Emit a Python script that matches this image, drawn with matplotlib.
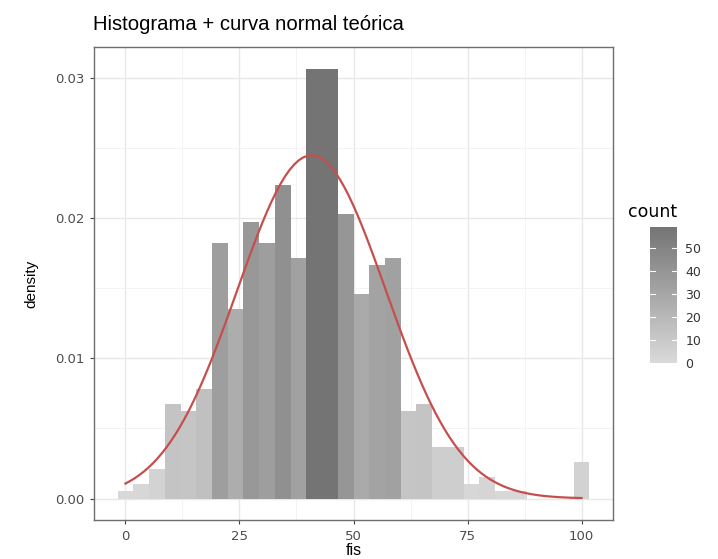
import matplotlib.pyplot as plt
import numpy as np
from matplotlib.colors import LinearSegmentedColormap, Normalize
from matplotlib.colorbar import ColorbarBase

plt.rcParams['font.family'] = ['Liberation Sans', 'DejaVu Sans']

# histogram: 30 bins over 0..100 (ggplot default), counts
n_bins = 30
counts = [1, 2, 4, 13, 12, 15, 35, 26, 38, 35, 43, 33, 59, 59, 39,
          28, 32, 33, 12, 13, 7, 7, 2, 3, 1, 1, 0, 0, 0, 5]
x_ticks = [0, 25, 50, 75, 100]
y_ticks = [0.00, 0.01, 0.02, 0.03]
cbar_ticks = [0, 10, 20, 30, 40, 50]

# theoretical normal curve parameters
mu = 40.8
sigma = 16.3

counts = np.array(counts)
bw = 100 / (n_bins - 1)
centers = np.arange(n_bins) * bw
density = counts / (counts.sum() * bw)

cmap = LinearSegmentedColormap.from_list('greys', ['#dadada', '#747474'])
norm = Normalize(vmin=counts.min(), vmax=counts.max())

fig = plt.figure(figsize=(7.18, 5.59), dpi=100)
ax = fig.add_axes([94 / 718, 1 - 520 / 559, 519 / 718, 473 / 559])

mask = counts > 0
ax.bar(centers[mask], density[mask], width=bw, color=cmap(norm(counts[mask])),
       edgecolor='none', zorder=2)

xs = np.linspace(0, 100, 101)
ys = np.exp(-0.5 * ((xs - mu) / sigma) ** 2) / (sigma * np.sqrt(2 * np.pi))
ax.plot(xs, ys, color='#c64f4e', lw=1.6, zorder=3)

# ggplot-like limits with 5% expansion
x0, x1 = -bw / 2, 100 + bw / 2
ax.set_xlim(x0 - 0.05 * (x1 - x0), x1 + 0.05 * (x1 - x0))
ymax = density.max()
ax.set_ylim(-0.05 * ymax, ymax * 1.05)

ax.set_xticks(x_ticks)
ax.set_xticks([12.5, 37.5, 62.5, 87.5], minor=True)
ax.set_yticks(y_ticks)
ax.set_yticks([0.005, 0.015, 0.025], minor=True)
ax.set_yticklabels([f'{v:.2f}' for v in y_ticks])
for lab in ax.get_xticklabels() + ax.get_yticklabels():
    lab.set_family('DejaVu Sans')
ax.grid(True, which='major', color='#e8e8e8', lw=1.0, zorder=0)
ax.grid(True, which='minor', color='#f1f1f1', lw=0.6, zorder=0)
ax.set_axisbelow(True)
ax.tick_params(which='minor', length=0)
ax.tick_params(which='major', length=3, width=0.8, color='#444444',
               labelcolor='#4d4d4d', labelsize=9.5, pad=4)
for s in ax.spines.values():
    s.set_color('#6e6e6e')
    s.set_linewidth(1.0)

ax.set_xlabel('fis', fontsize=11.5, labelpad=0)
ax.set_ylabel('density', fontsize=11, labelpad=12)

fig.text(93 / 718, 1 - 25 / 559, 'Histograma + curva normal teórica',
         fontsize=14.6, ha='left', va='center')

# colour bar legend
cax = fig.add_axes([650 / 718, 1 - 363 / 559, 27 / 718, 136 / 559])
cb = ColorbarBase(cax, cmap=cmap, norm=norm, orientation='vertical')
cb.outline.set_visible(False)
cb.set_ticks(cbar_ticks)
cax.tick_params(length=0, labelsize=9, labelcolor='#333333', pad=6)
for lab in cax.get_yticklabels():
    lab.set_family('DejaVu Sans')
for t in cbar_ticks:
    cax.plot([0, 0.2], [t, t], color='white', lw=0.8, transform=cax.get_yaxis_transform())
    cax.plot([0.8, 1], [t, t], color='white', lw=0.8, transform=cax.get_yaxis_transform())
fig.text(628 / 718, 1 - 212 / 559, 'count', fontsize=12.5, ha='left', va='center',
         family='DejaVu Sans')

fig.savefig('out.png', dpi=100)
